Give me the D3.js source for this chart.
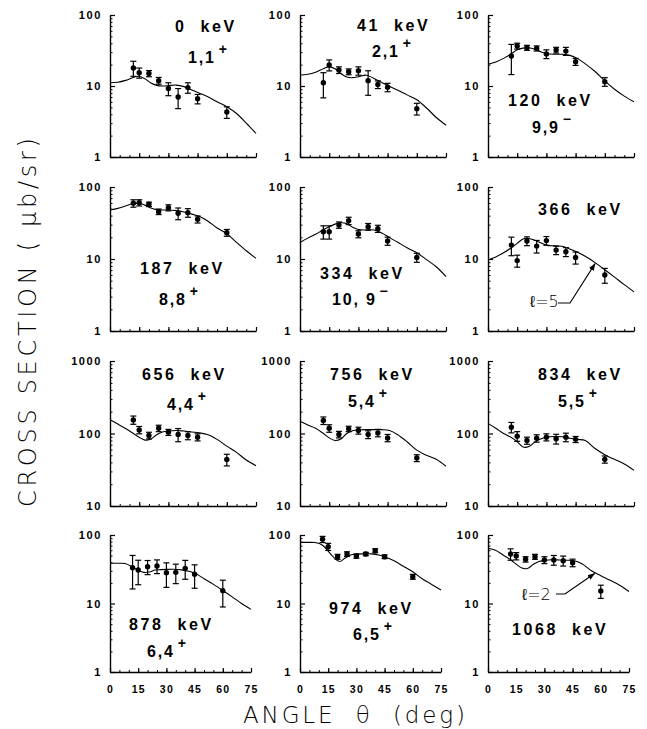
<!DOCTYPE html>
<html><head><meta charset="utf-8">
<script src="https://cdn.jsdelivr.net/npm/d3@7"></script>
<style>body{margin:0;background:#fff} svg{display:block} text{white-space:pre}</style>
</head><body><svg id="c" width="647" height="729"></svg>
<script>
// ---------------- data ----------------
const angles = [12, 15, 20, 25, 30, 35, 40, 45, 60];
const fitAngles = [0, 4, 8, 12, 15, 18, 21, 24, 27, 30, 34, 38, 42, 46, 50, 55, 60, 65, 70, 75];
const xTicks = [0, 15, 30, 45, 60, 75];
const energies = ["0", "41", "120", "187", "334", "366", "656", "756", "834", "878", "974", "1068"];
const spins = ["1,1", "2,1", "9,9", "8,8", "10, 9", null, "4,4", "5,4", "5,5", "6,4", "6,5", null];
const parities = ["+", "+", "\u2212", "+", "\u2212", null, "+", "+", "+", "+", "+", null];
const yTicksLow = [1, 10, 100];
const yTicksHigh = [10, 100, 1000];

const sig0 = [18, 15.4, 15, 11.9, 9.2, 7.0, 9.5, 6.6, 4.3];
const err0 = [4.3, 2.5, 1.5, 1.3, 1.9, 2.2, 1.6, 1.0, 0.8];
const fit0 = [11.1, 11.3, 12.0, 13.2, 13.7, 12.6, 11.0, 10.2, 10.0, 10.1, 10.3, 9.8, 8.8, 7.9, 7.1, 6.0, 5.1, 4.1, 3.0, 2.15];

const sig1 = [11.1, 19.8, 16.8, 15.9, 16.4, 11.9, 10.5, 9.6, 4.8];
const err1 = [4.3, 3.5, 1.8, 1.5, 2.2, 4.5, 1.3, 1.3, 0.9];
const fit1 = [14.3, 14.6, 15.6, 17.5, 18.6, 17.5, 15.0, 13.4, 13.1, 13.5, 14.2, 12.8, 11.2, 9.9, 8.8, 7.5, 6.4, 4.9, 3.6, 2.8];

const sig2 = [26.5, 36.6, 34.6, 33.9, 28.3, 32.1, 31, 22, 11.5];
const err2 = [12, 3.5, 2.8, 2.8, 4, 3, 4, 2.5, 1.6];
const fit2 = [20.2, 21.8, 24.5, 28.5, 32.5, 34.2, 34.5, 33.0, 30.5, 28.7, 28.0, 28.0, 27.0, 24.3, 20.5, 16.0, 11.8, 9.0, 7.2, 6.0];

const sig3 = [59.4, 60.5, 57.5, 45.4, 51.6, 43.1, 44, 35.6, 23.2];
const err3 = [7, 6, 4, 4, 5, 8, 6, 4, 2.5];
const fit3 = [48, 50.5, 54.5, 59, 59.5, 56, 51, 48.5, 48, 48, 47, 45, 42, 39, 34, 27, 22.5, 17, 13, 10.2];

const sig4 = [23.9, 23.9, 29.7, 34, 22.2, 28.1, 26.4, 17.8, 10.5];
const err4 = [5, 5, 3, 4, 2.5, 3, 3, 2.3, 1.5];
const fit4 = [16.9, 19.5, 22.0, 25.5, 28.0, 30.5, 31.8, 31.0, 27.5, 25.7, 25.3, 25.3, 23.0, 19.8, 17.2, 14.3, 12.2, 9.8, 7.8, 5.7];

const sig5 = [15.6, 9.5, 17.8, 15.1, 18, 13.3, 12.6, 10.5, 6.0];
const err5 = [4.5, 1.8, 2.5, 3, 2.5, 1.8, 1.8, 2, 1.4];
const fit5 = [9.7, 10.7, 12.2, 14.3, 16.5, 19.0, 19.3, 18.2, 16.8, 15.6, 15.2, 15.0, 13.8, 12.4, 10.9, 8.9, 7.1, 5.6, 4.4, 3.5];

const sig6 = [154, 112, 94, 118, 104, 97, 94, 89, 43.7];
const err6 = [20, 13, 10, 12, 10, 20, 12, 10, 8];
const fit6 = [155, 135, 117, 100, 89, 81, 84, 96, 105, 108, 110, 108, 105, 102, 97, 83, 67, 55, 43, 36];

const sig7 = [151, 118, 97, 116, 110, 97, 102, 87, 45.9];
const err7 = [18, 14, 10, 10, 12, 12, 12, 10, 5];
const fit7 = [147, 131, 118, 100, 87, 80, 84, 100, 109, 112, 113, 113, 113, 110, 97, 77, 59, 50, 44, 35.3];

const sig8 = [122, 92, 80, 86, 89, 84.5, 89, 83, 44];
const err8 = [20, 14, 9, 10, 10, 13, 12, 8, 5];
const fit8 = [138, 118, 100, 88, 77, 65, 66, 76, 84, 89, 91, 90, 86, 83, 80, 62, 51, 44, 38, 31];

const sig9 = [33.3, 30.8, 34.4, 35.3, 28.2, 28.5, 32.6, 26.7, 15.4];
const err9 = [17, 12, 8, 8, 11, 9, 10, 10, 6.5];
const fit9 = [38.6, 38.6, 38.4, 34, 30.5, 28.5, 28.8, 30.8, 31.2, 31.5, 31.6, 31, 29.5, 27, 23, 19, 15.5, 12.5, 10, 8.2];

const sig10 = [86.5, 67.5, 48.2, 52.8, 49.3, 52.8, 59, 48.2, 24.6];
const err10 = [9, 8, 4, 4, 3.5, 3, 4, 3, 2];
const fit10 = [78, 78, 77.5, 71, 58, 47, 41, 46, 51, 52.5, 53, 53, 51, 47, 42, 35, 29, 23, 19, 15.7];

const sig11 = [52.8, 49.3, 44.2, 48.2, 43.2, 43.2, 42.2, 39.4, 15.2];
const err11 = [10, 6, 4, 4, 5, 7, 7, 5, 3.3];
const fit11 = [64, 60, 51, 43.5, 37.5, 33, 32.5, 37, 41, 42.5, 43.5, 43.2, 42.8, 42, 38, 30, 25.5, 21.8, 18.5, 15];

const sigmas = [sig0, sig1, sig2, sig3, sig4, sig5, sig6, sig7, sig8, sig9, sig10, sig11];
const errors = [err0, err1, err2, err3, err4, err5, err6, err7, err8, err9, err10, err11];
const fits = [fit0, fit1, fit2, fit3, fit4, fit5, fit6, fit7, fit8, fit9, fit10, fit11];

// annotation: panel index, label, angle where the arrow points
const notePanels = [5, 11];
const noteLabels = ["\u2113=5", "\u2113=2"];
const noteAngles = [55, 56.7];

// ---------------- layout ----------------
const colLeft = [110, 300, 488];
const rowTop = [15, 187, 361, 535];
const rowBottom = [157, 331, 506, 672];
const rowWidth = [146, 146, 146, 141];
// label placement relative to panel origin: [energyX, energyY, spinX, spinY]
const labelPos = [
  [65, 17, 78, 48], [57, 16, 72, 42], [20, 91, 44, 118],
  [30, 87, 49, 118], [20, 92, 32, 118], [50, 28, 0, 0],
  [32, 19, 57, 49], [30, 19, 48, 46], [50, 19, 70, 46],
  [19, 95, 37, 122], [29, 79, 53, 105], [24, 100, 0, 0]
];
const notePos = [[42, 120, 70, 116, 82, 116], [34, 65, 68, 59, 77, 59]];

const svg = d3.select("#c");
const FONT = "'Liberation Sans', Arial, Helvetica, sans-serif";

const defs = svg.append("defs");
defs.append("marker").attr("id", "ah").attr("viewBox", "0 0 10 10")
  .attr("refX", 9).attr("refY", 5).attr("markerWidth", 7).attr("markerHeight", 7)
  .attr("orient", "auto").append("path").attr("d", "M0,1.5 L10,5 L0,8.5 Z").attr("fill", "#000");

for (let i = 0; i < 12; i++) {
  const r = Math.floor(i / 3), c = i % 3;
  const L = colLeft[c], T = rowTop[r], B = rowBottom[r], W = rowWidth[r];
  const yDom = r === 2 ? [10, 1000] : [1, 100];
  const yTicks = r === 2 ? yTicksHigh : yTicksLow;
  const x = d3.scaleLinear().domain([0, 75]).range([L, L + W]);
  const y = d3.scaleLog().domain(yDom).range([B, T]);
  const g = svg.append("g");

  // minor y ticks
  const minor = [];
  for (let d = yDom[0]; d < yDom[1]; d *= 10) for (let k = 2; k <= 9; k++) minor.push(d * k);
  g.append("g").attr("transform", `translate(${L},0)`)
    .call(d3.axisLeft(y).tickValues(minor).tickSizeInner(-2.5).tickSizeOuter(0).tickFormat(""))
    .call(a => a.select(".domain").remove())
    .call(a => a.selectAll("line").attr("stroke-width", 1));
  // major y
  g.append("g").attr("transform", `translate(${L},0)`)
    .call(d3.axisLeft(y).tickValues(yTicks).tickSizeInner(-5).tickSizeOuter(0).tickPadding(8).tickFormat(d3.format("d")))
    .call(a => a.select(".domain").attr("stroke-width", 1.4))
    .call(a => a.selectAll("line").attr("stroke-width", 1.2))
    .call(a => a.selectAll("text").attr("font-family", FONT).attr("font-weight", "bold")
      .attr("font-size", 11).attr("letter-spacing", 1.6).attr("fill", "#000"));

  // minor x
  g.append("g").attr("transform", `translate(0,${B})`)
    .call(d3.axisBottom(x).tickValues(d3.range(5, 75, 5)).tickSizeInner(-2).tickSizeOuter(0).tickFormat(""))
    .call(a => a.select(".domain").remove());
  // major x
  g.append("g").attr("transform", `translate(0,${B})`)
    .call(d3.axisBottom(x).tickValues(xTicks).tickSizeInner(-4).tickSizeOuter(0).tickPadding(14)
      .tickFormat(r === 3 ? d3.format("d") : ""))
    .call(a => a.select(".domain").attr("stroke-width", 1.4))
    .call(a => a.selectAll("line").attr("stroke-width", 1.2))
    .call(a => a.selectAll("text").attr("font-family", FONT).attr("font-weight", "bold")
      .attr("font-size", 10.5).attr("letter-spacing", 1.2).attr("fill", "#000"));

  // fit curve
  const pts = fitAngles.map((a, k) => [a, fits[i][k]]);
  g.append("path").datum(pts)
    .attr("d", d3.line().x(d => x(d[0])).y(d => y(d[1])).curve(d3.curveCatmullRom.alpha(0.5)))
    .attr("fill", "none").attr("stroke", "#000").attr("stroke-width", 1.1);

  // data with error bars
  const data = angles.map((a, k) => ({ a, v: sigmas[i][k], e: errors[i][k] }));
  const eg = g.append("g").attr("stroke", "#000").attr("stroke-width", 1.2);
  data.forEach(d => {
    const px = x(d.a), y1 = y(d.v + d.e), y2 = y(d.v - d.e);
    eg.append("line").attr("x1", px).attr("x2", px).attr("y1", y1).attr("y2", y2);
    eg.append("line").attr("x1", px - 3).attr("x2", px + 3).attr("y1", y1).attr("y2", y1);
    eg.append("line").attr("x1", px - 3).attr("x2", px + 3).attr("y1", y2).attr("y2", y2);
  });
  g.selectAll("circle.pt").data(data).join("circle").attr("class", "pt")
    .attr("cx", d => x(d.a)).attr("cy", d => y(d.v)).attr("r", 2.7).attr("fill", "#000");

  // labels
  const lp = labelPos[i];
  g.append("text").attr("x", L + lp[0]).attr("y", T + lp[1])
    .attr("font-family", FONT).attr("font-weight", "bold").attr("font-size", 16)
    .attr("letter-spacing", 2.6).attr("fill", "#000")
    .text(energies[i] + "  keV");
  if (spins[i]) {
    const t = g.append("text").attr("x", L + lp[2]).attr("y", T + lp[3])
      .attr("font-family", FONT).attr("font-weight", "bold").attr("font-size", 16)
      .attr("letter-spacing", 1.8).attr("fill", "#000");
    t.append("tspan").text(spins[i]);
    t.append("tspan").attr("dx", 3).attr("dy", -9).attr("font-size", 14).text(parities[i]);
  }

  // arrow annotation
  const ni = notePanels.indexOf(i);
  if (ni >= 0) {
    const np = notePos[ni];
    const na = noteAngles[ni];
    const tipV = Math.exp(d3.scaleLinear().domain(fitAngles).range(fits[i].map(Math.log))(na));
    const tx = x(na), ty = y(tipV) + 1;
    g.append("text").attr("x", L + np[0]).attr("y", T + np[1])
      .attr("font-family", "'DejaVu Sans', sans-serif").attr("font-weight", 300)
      .attr("font-size", 16).attr("fill", "#000").text(noteLabels[ni]);
    g.append("path")
      .attr("d", `M${L + np[2]},${T + np[3]} L${L + np[4]},${T + np[5]} L${tx},${ty}`)
      .attr("fill", "none").attr("stroke", "#000").attr("stroke-width", 1.1)
      .attr("marker-end", "url(#ah)");
  }
}

// axis titles
const TFONT = "'DejaVu Sans ExtraLight', 'DejaVu Sans', sans-serif";
svg.append("text").attr("transform", "translate(36,322.5) rotate(-90)")
  .attr("text-anchor", "middle").attr("font-family", TFONT).attr("font-weight", 200)
  .attr("font-size", 24).attr("fill", "#000")
  .attr("textLength", 369).attr("lengthAdjust", "spacing")
  .text("CROSS SECTION ( \u03bcb/sr)");
svg.append("text").attr("x", 354).attr("y", 723)
  .attr("text-anchor", "middle").attr("font-family", TFONT).attr("font-weight", 200)
  .attr("font-size", 23).attr("fill", "#000")
  .attr("textLength", 222).attr("lengthAdjust", "spacing")
  .text("ANGLE  \u03b8  (deg)");
</script></body></html>
